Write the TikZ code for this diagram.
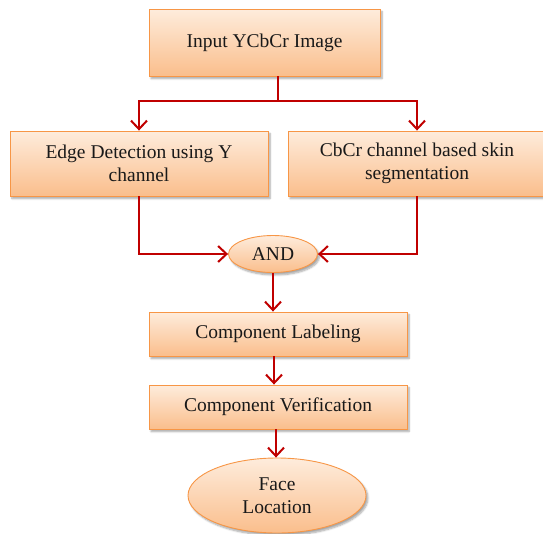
\documentclass[tikz,border=0pt]{standalone}
\usepackage{fontspec}
\setmainfont{Liberation Serif}
\usetikzlibrary{arrows.meta,shapes.geometric,shadows.blur}
\definecolor{topc}{RGB}{254,236,220}
\definecolor{botc}{RGB}{250,190,140}
\definecolor{bord}{RGB}{247,150,70}
\definecolor{arr}{RGB}{192,0,0}
\tikzset{
  proc/.style={draw=bord, line width=0.9pt, top color=topc, bottom color=botc,
    blur shadow={shadow blur steps=6, shadow xshift=2pt, shadow yshift=-2.5pt, shadow opacity=35},
    align=center, font=\fontsize{19.5}{23.5}\selectfont, inner sep=0pt, text=black!90},
  boxnode/.style={proc, rectangle},
  ovalnode/.style={proc, ellipse},
  conn/.style={draw=arr, line width=2.2pt},
  arrowc/.style={conn, -{Straight Barb[length=8.5pt,width=16pt,line width=2pt]}}
}
\begin{document}
\begin{tikzpicture}[x=1pt,y=-1pt]
\useasboundingbox (0,0) rectangle (543,533);
\node[boxnode, minimum width=231pt, minimum height=67pt] (in) at (264.5,42.5) {\raisebox{-1.5pt}{Input YCbCr Image}};
\node[boxnode, minimum width=258pt, minimum height=65pt] (edge) at (139,163.5) {Edge Detection using Y\\channel};
\node[boxnode, minimum width=258pt, minimum height=65pt] (skin) at (417,163.5) {CbCr channel based skin\\segmentation};
\node[ovalnode, minimum width=89pt, minimum height=37pt] (and) at (273,254) {AND};
\node[boxnode, minimum width=258pt, minimum height=44pt] (lab) at (278,334) {\raisebox{-1.5pt}{Component Labeling}};
\node[boxnode, minimum width=258pt, minimum height=44pt] (ver) at (278,407) {\raisebox{-1.5pt}{Component Verification}};
\node[ovalnode, minimum width=178pt, minimum height=75pt] (face) at (277,495.5) {Face\\Location};
\coordinate (split) at (277.7,101);
\draw[conn] (split |- in.south) -- (split);
\draw[arrowc] (split) -| (edge.north);
\draw[arrowc] (split) -| (skin.north);
\draw[arrowc] (edge.south) |- (and.west);
\draw[arrowc] (skin.south) |- (and.east);
\draw[arrowc] (and.south) -- (and.south |- lab.north);
\coordinate (m1) at (274,0);
\draw[arrowc] (m1 |- lab.south) -- (m1 |- ver.north);
\coordinate (m2) at (276,0);
\draw[arrowc] (m2 |- ver.south) -- (m2 |- face.north);
\end{tikzpicture}
\end{document}
